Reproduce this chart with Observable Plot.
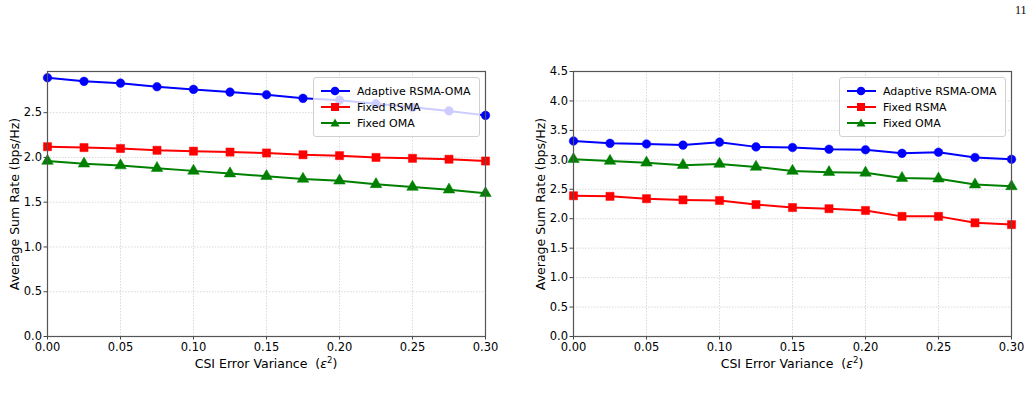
<!DOCTYPE html>
<html>
<head>
<meta charset="utf-8">
<script src="https://cdn.jsdelivr.net/npm/d3@7"></script>
<script src="https://cdn.jsdelivr.net/npm/@observablehq/plot@0.6"></script>
<style>
  html, body { margin: 0; padding: 0; background: #fff; }
  body { width: 1035px; height: 402px; position: relative; overflow: hidden; font-family: "DejaVu Sans", sans-serif; }
  .panel { position: absolute; top: 0; width: 517px; height: 402px; }
  .panel svg { max-width: none !important; }
  .legend { position: absolute; background: rgba(255,255,255,0.8); border: 1px solid #d0d0d0; border-radius: 3px; box-sizing: border-box; font-size: 11px; color: #000; }
  .legend .row { position: absolute; left: 0; height: 16px; display: flex; align-items: center; }
  .legend .row svg { margin-left: 7px; }
  .legend .row span { margin-left: 7px; white-space: nowrap; }
  .xlabel { position: absolute; font-size: 12.5px; white-space: nowrap; transform: translateX(-50%); }
  .ylabel { position: absolute; font-size: 12.5px; white-space: nowrap; transform: translate(-50%, -50%) rotate(-90deg); }
  .pagenum { position: absolute; left: 1015px; top: 3px; font-family: "Liberation Serif", serif; font-size: 12px; }
</style>
</head>
<body>
<div id="root"></div>
<script>
// ---------- data ----------
const epsilon = [0, 0.025, 0.05, 0.075, 0.1, 0.125, 0.15, 0.175, 0.2, 0.225, 0.25, 0.275, 0.3];
const seriesNames = ["Adaptive RSMA-OMA", "Fixed RSMA", "Fixed OMA"];

// left panel
const adaptiveLeft = [2.89, 2.85, 2.83, 2.79, 2.76, 2.73, 2.70, 2.66, 2.64, 2.60, 2.56, 2.52, 2.47];
const rsmaLeft     = [2.12, 2.11, 2.10, 2.08, 2.07, 2.06, 2.05, 2.03, 2.02, 2.00, 1.99, 1.98, 1.96];
const omaLeft      = [1.96, 1.93, 1.91, 1.88, 1.85, 1.82, 1.79, 1.76, 1.74, 1.70, 1.67, 1.64, 1.60];

// right panel
const adaptiveRight = [3.32, 3.28, 3.27, 3.25, 3.30, 3.22, 3.21, 3.18, 3.17, 3.11, 3.13, 3.04, 3.01];
const rsmaRight     = [2.39, 2.38, 2.34, 2.32, 2.31, 2.24, 2.19, 2.17, 2.14, 2.04, 2.04, 1.93, 1.90];
const omaRight      = [3.01, 2.98, 2.95, 2.91, 2.93, 2.88, 2.81, 2.79, 2.78, 2.69, 2.68, 2.58, 2.55];

const xTicks = [0, 0.05, 0.1, 0.15, 0.2, 0.25, 0.3];
const yTicksLeft = [0, 0.5, 1.0, 1.5, 2.0, 2.5];
const yTicksRight = [0, 0.5, 1.0, 1.5, 2.0, 2.5, 3.0, 3.5, 4.0, 4.5];
const yMaxLeft = 2.96;
const yMaxRight = 4.5;

const xLabel = "CSI Error Variance";
const yLabel = "Average Sum Rate (bps/Hz)";

// ---------- styles ----------
const colors = {"Adaptive RSMA-OMA": "#0000ff", "Fixed RSMA": "#ff0000", "Fixed OMA": "#008000"};
const symbols = {"Adaptive RSMA-OMA": "circle", "Fixed RSMA": "square", "Fixed OMA": "triangle"};
const radii = {"Adaptive RSMA-OMA": 4.3, "Fixed RSMA": 4.6, "Fixed OMA": 4.3};

function toRows(a, b, c) {
  const rows = [];
  [a, b, c].forEach((vals, i) => {
    vals.forEach((v, j) => rows.push({x: epsilon[j], y: v, s: seriesNames[i]}));
  });
  return rows;
}

const W = 517, H = 402, ML = 47, MR = 32, MT = 71, MB = 66;

function makePanel(rows, yMax, yTicks, left) {
  const marks = [
    Plot.gridX(xTicks, {stroke: "#c8c8c8", strokeOpacity: 1, strokeDasharray: "1.5,1.5", strokeWidth: 0.7}),
    Plot.gridY(yTicks, {stroke: "#c8c8c8", strokeOpacity: 1, strokeDasharray: "1.5,1.5", strokeWidth: 0.7}),
    Plot.axisX(xTicks, {tickFormat: d3.format(".2f"), tickSize: 3.5, tickPadding: 2.5, fontSize: 11.5, label: null, stroke: "#444"}),
    Plot.axisY(yTicks, {tickFormat: d3.format(".1f"), tickSize: 3.5, tickPadding: 2, fontSize: 11.5, label: null, stroke: "#444"}),
  ];
  for (const s of seriesNames) {
    const d = rows.filter(r => r.s === s);
    marks.push(Plot.line(d, {x: "x", y: "y", stroke: colors[s], strokeWidth: 2}));
    marks.push(Plot.dot(d, {x: "x", y: "y", symbol: () => symbols[s], fill: colors[s], stroke: colors[s], strokeWidth: 0.5, r: radii[s]}));
  }
  marks.push(Plot.frame({stroke: "#555", strokeWidth: 1.2}));
  const p = Plot.plot({
    width: W, height: H,
    marginLeft: ML, marginRight: MR, marginTop: MT, marginBottom: MB,
    x: {domain: [0, 0.3]},
    y: {domain: [0, yMax]},
    symbol: {type: "identity"},
    style: {fontFamily: "DejaVu Sans, sans-serif", fontSize: "11.5px", color: "#000", background: "transparent", overflow: "visible", maxWidth: "none"},
    marks
  });
  const div = document.createElement("div");
  div.className = "panel";
  div.style.left = left + "px";
  div.appendChild(p);
  document.getElementById("root").appendChild(div);

  // axis labels
  const xl = document.createElement("div");
  xl.className = "xlabel";
  xl.style.left = (left + ML + (W - ML - MR) / 2) + "px";
  xl.style.top = "356px";
  xl.innerHTML = xLabel + "&nbsp;&nbsp;(<i>ε</i><sup style='font-size:8.5px;vertical-align:5px;line-height:0'>2</sup>)";
  document.body.appendChild(xl);

  const yl = document.createElement("div");
  yl.className = "ylabel";
  yl.style.left = (left + 14) + "px";
  yl.style.top = (MT + (H - MT - MB) / 2) + "px";
  yl.textContent = yLabel;
  document.body.appendChild(yl);
}

function makeLegend(x, y) {
  const lg = document.createElement("div");
  lg.className = "legend";
  lg.style.left = x + "px";
  lg.style.top = y + "px";
  lg.style.width = "167px";
  lg.style.height = "60px";
  seriesNames.forEach((s, i) => {
    const row = document.createElement("div");
    row.className = "row";
    row.style.top = (5 + i * 16) + "px";
    const c = colors[s];
    let marker;
    if (symbols[s] === "circle") marker = `<circle cx="14" cy="8" r="4.3" fill="${c}"/>`;
    else if (symbols[s] === "square") marker = `<rect x="10" y="4" width="8" height="8" fill="${c}"/>`;
    else marker = `<path d="M14,3.5 L18.5,11.5 L9.5,11.5 Z" fill="${c}"/>`;
    row.innerHTML = `<svg width="29" height="16"><line x1="0" y1="8" x2="29" y2="8" stroke="${c}" stroke-width="2"/>${marker}</svg><span>${s}</span>`;
    lg.appendChild(row);
  });
  document.body.appendChild(lg);
}

makePanel(toRows(adaptiveLeft, rsmaLeft, omaLeft), yMaxLeft, yTicksLeft, 0);
makePanel(toRows(adaptiveRight, rsmaRight, omaRight), yMaxRight, yTicksRight, 526);
makeLegend(313, 77);
makeLegend(839, 77);

const pn = document.createElement("div");
pn.className = "pagenum";
pn.textContent = "11";
document.body.appendChild(pn);
</script>
</body>
</html>
